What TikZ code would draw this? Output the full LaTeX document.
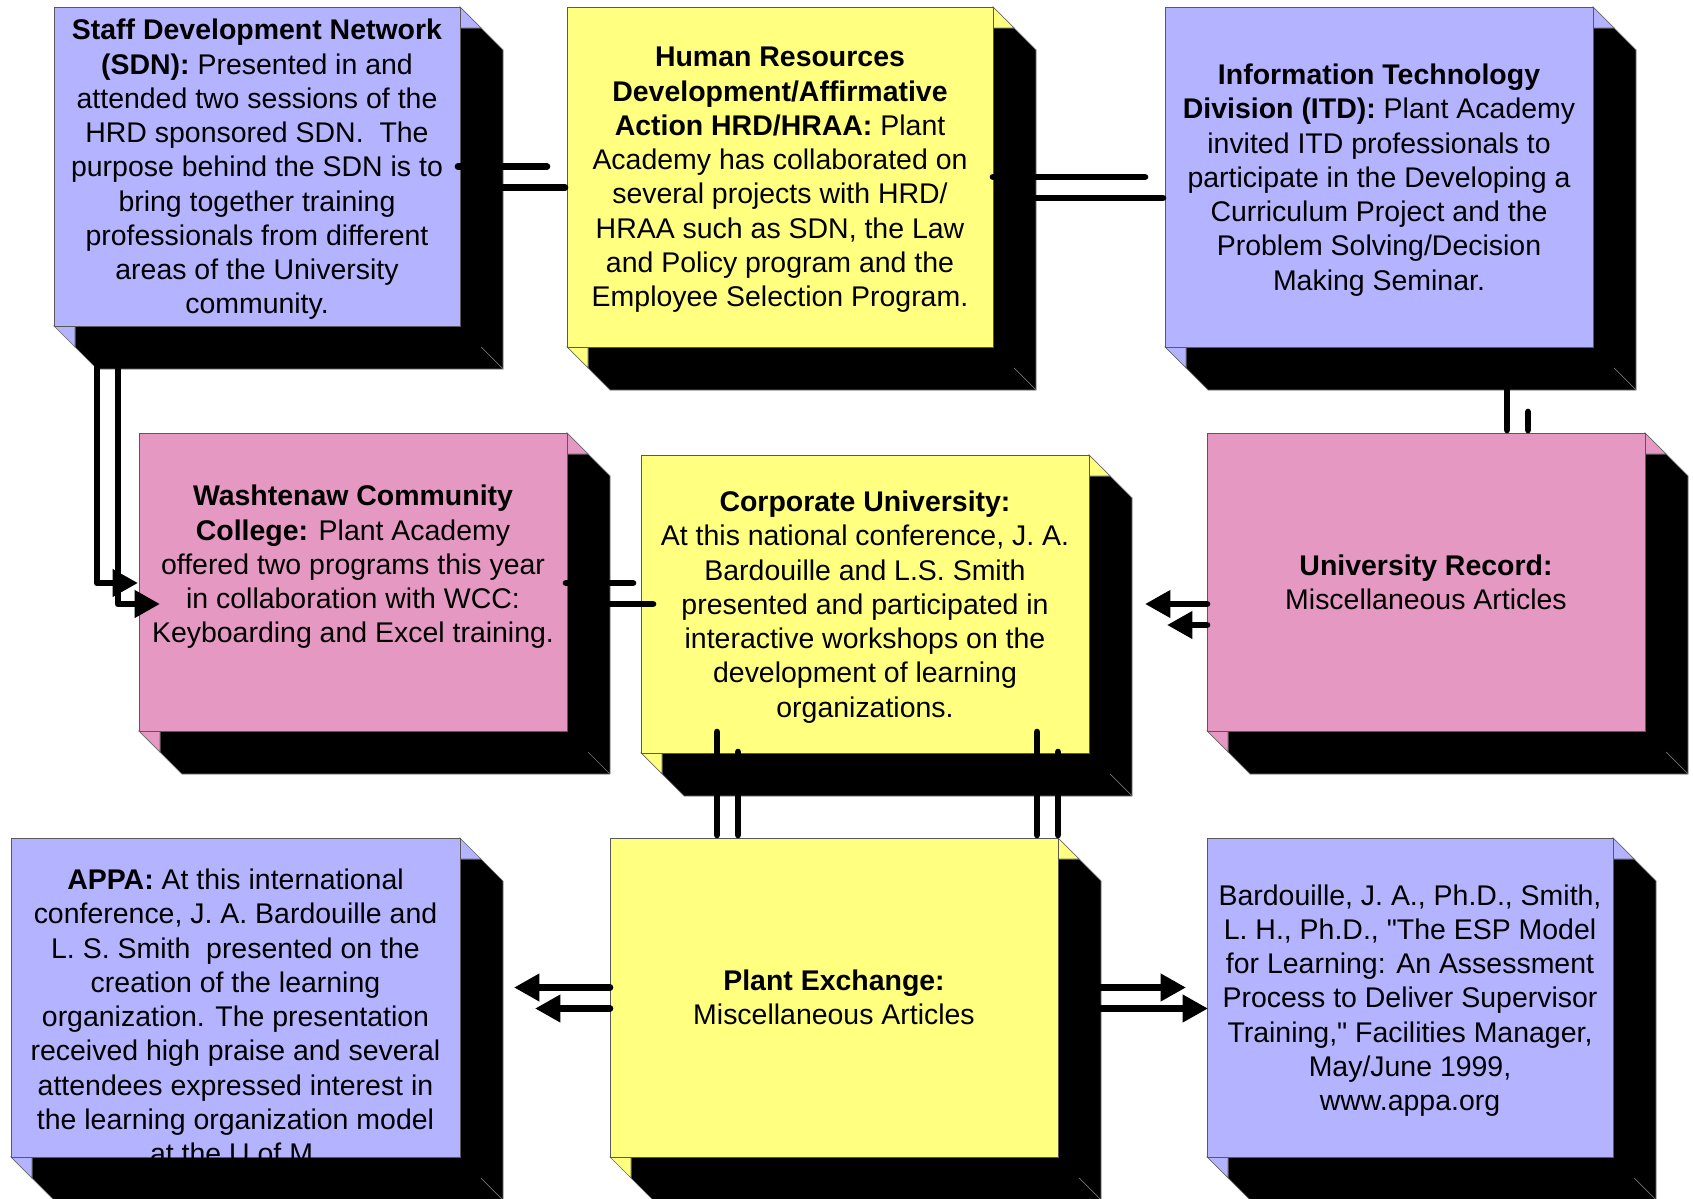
\documentclass[tikz,border=0pt]{standalone}
\usepackage{fontspec}
\setmainfont{Liberation Sans}[Ligatures=TeXOff]
\usepackage{xcolor}
\usepackage{tikz}
\usetikzlibrary{arrows.meta}
\usetikzlibrary{calc}
\definecolor{lav}{RGB}{179,179,255}
\definecolor{lem}{RGB}{255,255,128}
\definecolor{rose}{RGB}{229,152,193}
\tikzstyle{face}=[draw=black!65,line width=.5pt,inner sep=0pt,outer sep=0pt]
\tikzstyle{blurb}=[align=center,inner sep=0pt,yshift=-.06cm,font=\fontsize{16.2}{19.5}\selectfont]
\tikzstyle{link}=[line width=3.8pt,line cap=round,line join=round]
\tikzstyle{arr}=[link,-{Triangle[length=14.5pt,width=15pt]}]
% #1 name, #2 colour, (#3,#4) top left and (#5,#6) bottom right of the front face
\newcommand\slab[6]{%
  \filldraw[black,draw=black!55,line width=.4pt] ({#3+21},{#4+21}) -- ({#5+21},{#4+21}) -- ({#5+43},{#4+43})
    -- ({#5+43},{#6+43}) -- ({#3+43},{#6+43}) -- ({#3+21},{#6+21}) -- cycle;
  \draw[black!55,line width=.4pt] ({#5+21},{#6+21}) -- ({#5+43},{#6+43});
  \filldraw[fill=#2,draw=black!60,line width=.4pt] (#5,#4) -- ({#5+21},{#4+21}) -- (#5,{#4+21}) -- cycle;
  \filldraw[fill=#2,draw=black!60,line width=.4pt] (#3,#6) -- ({#3+21},{#6+21}) -- ({#3+21},#6) -- cycle;
  \node[face,fill=#2,minimum width={(#5-#3)*0.02cm},minimum height={(#6-#4)*0.02cm}]
    (#1) at ({(#3+#5)/2},{(#4+#6)/2}) {};%
}

\begin{document}
\begin{tikzpicture}[x=0.02cm,y=-0.02cm]
\useasboundingbox (0,0) rectangle (1693,1199);

\slab{sdn}{lav}{54}{7}{460}{326}
\slab{hrd}{lem}{567}{7}{993}{347}
\slab{itd}{lav}{1165}{7}{1593}{347}
\slab{wcc}{rose}{139}{433}{567}{731}
\slab{cu}{lem}{641}{455}{1089}{753}
\slab{ur}{rose}{1207}{433}{1645}{731}
\slab{appa}{lav}{11}{838}{460}{1157}
\slab{pe}{lem}{610}{838}{1058}{1157}
\slab{bib}{lav}{1207}{838}{1613}{1157}

\node[blurb] (sdn-t) at (sdn) {\textbf{Staff Development Network}\\\textbf{(SDN):} Presented in and\\attended two sessions of the\\HRD sponsored SDN.\ \ The\\purpose behind the SDN is to\\bring together training\\professionals from different\\areas of the University\\community.};
\node[blurb] (hrd-t) at (hrd) {\textbf{Human Resources}\\\textbf{Development/Affirmative}\\\textbf{Action HRD/HRAA:} Plant\\Academy has collaborated on\\several projects with HRD/\\HRAA such as SDN, the Law\\and Policy program and the\\Employee Selection Program.};
\node[blurb] (itd-t) at (itd) {\textbf{Information Technology}\\\textbf{Division (ITD):} Plant Academy\\invited ITD professionals to\\participate in the Developing a\\Curriculum Project and the\\Problem Solving/Decision\\Making Seminar.};
\node[blurb] (wcc-t) at ($(wcc)+(0,-18)$) {\textbf{Washtenaw Community}\\\textbf{College:} Plant Academy\\offered two programs this year\\in collaboration with WCC:\\Keyboarding and Excel training.};
\node[blurb] (cu-t) at (cu) {\textbf{Corporate University:}\\At this national conference, J. A.\\Bardouille and L.S. Smith\\presented and participated in\\interactive workshops on the\\development of learning\\organizations.};
\node[blurb,yshift=.06cm] (ur-t) at (ur) {\textbf{University Record:}\\Miscellaneous Articles};
\begin{scope}
  \clip (appa.south west) rectangle (appa.north east);
  \node[blurb] (appa-t) at ($(appa)+(0,16)$) {\textbf{APPA:} At this international\\conference, J. A. Bardouille and\\L. S. Smith\ \ presented on the\\creation of the learning\\organization. The presentation\\received high praise and several\\attendees expressed interest in\\the learning organization model\\at the U of M.};
\end{scope}
\node[blurb,yshift=.06cm] (pe-t) at (pe) {\textbf{Plant Exchange:}\\Miscellaneous Articles};
\node[blurb] (bib-t) at (bib) {Bardouille, J. A., Ph.D., Smith,\\L. H., Ph.D., "The ESP Model\\for Learning: An Assessment\\Process to Deliver Supervisor\\Training," Facilities Manager,\\May/June 1999,\\www.appa.org};

% connectors, each with its shadow 21 down and right
\draw[link] ($(sdn.east)+(-2,0)$) -- ($(hrd.west |- sdn.east)+(-20,0)$);
\draw[link] ($(sdn.east)+(21,21)$) -- ($(hrd.west |- sdn.east)+(-2,21)$);
\draw[link] (hrd.east) -- ($(itd.west)+(-20,0)$);
\draw[link] ($(hrd.east)+(21,21)$) -- ($(itd.west)+(-2,21)$);
\draw[arr] ($(sdn.south west)+(43,8)$) |- ($(wcc.west)+(-1,1)$);
\draw[arr] ($(sdn.south west)+(64,21)$) |- ($(wcc.west)+(21,22)$);
\draw[link] ($(itd.south east)+(-86,33)$) coordinate (i1) -- ($(i1 |- ur.north)+(0,-3)$);
\draw[link] ($(itd.south east)+(-65,65)$) coordinate (i2) -- ($(i2 |- ur.north)+(0,-3)$);
\draw[link] ($(wcc.east)+(-1,1)$) -- ($(cu.west |- wcc.east)+(-8,1)$);
\draw[link] ($(wcc.east)+(20,22)$) -- ($(cu.west |- wcc.east)+(12,22)$);
\draw[arr] ($(ur.west)+(0,22)$) -- ($(cu.east)+(56,0)$);
\draw[arr] ($(ur.west)+(0,43)$) -- ($(cu.east)+(78,21)$);
\draw[link] ($(cu.south west)+(76,-21)$) coordinate (c1) -- ($(c1 |- pe.north)+(0,-3)$);
\draw[link] ($(cu.south west)+(97,-1)$) coordinate (c2) -- ($(c2 |- pe.north)+(0,-3)$);
\draw[link] ($(cu.south east)+(-52,-21)$) coordinate (c3) -- ($(c3 |- pe.north)+(0,-3)$);
\draw[link] ($(cu.south east)+(-31,-1)$) coordinate (c4) -- ($(c4 |- pe.north)+(0,-3)$);
\draw[arr] ($(pe.west)+(0,-10)$) -- ($(appa.east)+(54,-10)$);
\draw[arr] ($(pe.west)+(0,11)$) -- ($(appa.east)+(75,11)$);
\draw[arr] ($(pe.east)+(8,-10)$) -- ($(bib.west)+(-21,-10)$);
\draw[arr] ($(pe.east)+(21,11)$) -- ($(bib.west)+(1,11)$);
\end{tikzpicture}
\end{document}
